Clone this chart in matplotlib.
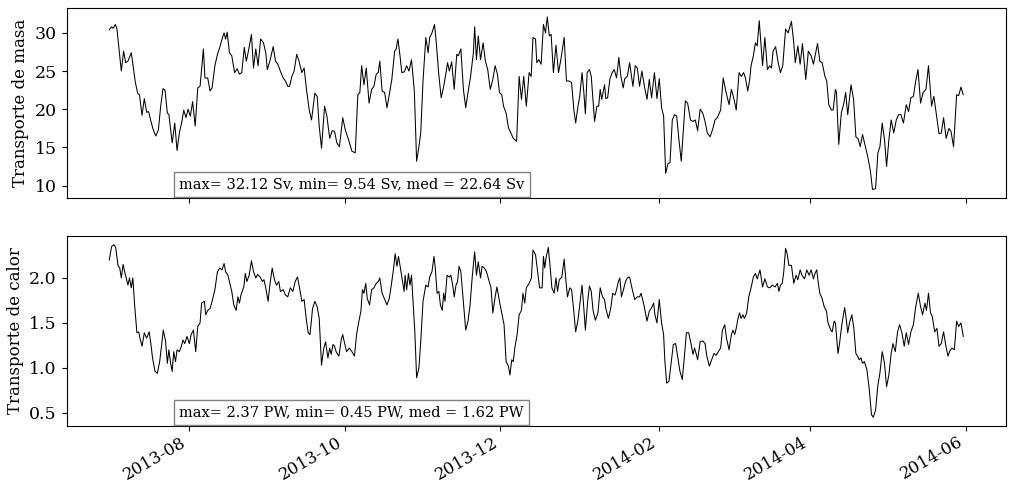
import matplotlib
matplotlib.use('Agg')
import matplotlib.pyplot as plt
import matplotlib.dates as mdates
import pandas as pd

plt.rcParams['font.family'] = 'DejaVu Serif'

# fecha de inicio de la serie
fecha_ini = pd.Timestamp('2013-07-01')

# transporte de masa (Sv), dias desde fecha_ini
dias_masa = [0, 0.9, 1.5, 2.4, 3.0, 4.7, 5.6, 6.4, 7.3, 8.6, 9.2, 10.2, 11.1, 11.8, 12.8, 13.7, 14.6, 15.4, 16.3, 17.2,
             18.2, 19.2, 20.1, 21.0, 21.8, 22.7, 23.3, 24.6, 25.6, 26.5, 27.4, 28.4, 29.1, 30.0, 30.8, 31.7, 32.6, 33.6,
             34.6, 35.5, 36.8, 37.4, 38.5, 39.4, 40.2, 41.3, 42.3, 43.2, 44.1, 44.9, 45.5, 46.1, 47.0, 47.9, 49.0, 50.0,
             50.9, 51.8, 52.8, 53.6, 54.4, 55.6, 56.4, 57.3, 58.2, 59.2, 60.3, 61.2, 61.8, 62.8, 64.1, 65.0, 65.9, 66.9,
             68.0, 68.9, 69.8, 70.5, 71.4, 72.3, 73.3, 74.2, 75.3, 76.2, 77.2, 78.2, 79.1, 80.4, 81.3, 82.1,
             83.0, 84.2, 85.1, 86.2, 87.2, 88.1, 89.0, 90.0, 91.3, 92.3, 93.6, 94.9, 96.2, 97.2, 98.0, 98.7, 99.6, 100.5,
             101.6, 102.6, 103.5, 104.4, 105.2, 105.8, 106.7, 107.7, 108.6, 109.5, 110.5, 111.6, 112.2, 112.9, 113.7,
             114.4, 115.4, 116.3, 117.2, 118.2, 119.3, 120.2, 121.1, 121.8, 122.7, 123.8, 124.7, 125.3, 126.2, 127.2,
             127.9, 128.8, 129.8, 130.8, 131.7, 132.3, 133.0, 133.9, 134.9, 135.9, 136.5, 137.5, 138.5, 139.4, 140.3,
             141.3, 142.4, 142.9, 143.6, 144.3, 145.2, 146.2, 147.1, 148.0, 149.0, 150.0, 150.9, 151.8, 152.6, 153.5,
             154.2, 155.2, 156.1, 156.9, 158.0, 159.3, 160.3, 161.2, 162.1, 163.1, 164.2, 165.0,
             165.7, 166.7, 167.2, 168.0, 168.9, 169.8, 170.6, 171.3, 172.1, 172.8, 173.7, 174.7, 175.7, 176.6, 177.9,
             178.8, 179.8, 180.8, 181.7, 182.4, 183.4, 184.0, 184.9, 185.6, 186.2, 186.9, 187.8, 188.5, 189.8, 190.7,
             191.4, 192.0, 192.6, 193.7, 194.2, 194.9, 195.8, 196.7, 197.5, 198.4, 199.3, 200.1, 201.0, 201.6, 202.6,
             203.5, 204.8, 205.7, 206.5, 207.4, 208.3, 209.3, 210.3, 211.2, 212.1, 213.2, 214.2, 215.1, 216.0, 216.8,
             217.6, 218.5, 219.3, 220.2, 221.1, 221.9, 222.8, 223.7, 224.4, 225.3, 226.2, 227.3, 228.3, 229.2, 230.1,
             231.1, 232.1, 233.0, 233.9, 235.0, 236.0, 236.9, 237.8, 239.1, 240.1, 241.1, 242.4, 243.3, 244.2, 245.2,
             246.3, 247.2, 248.1, 248.8, 249.7,
             250.4, 251.0, 251.9, 252.7, 253.4, 254.2, 255.5, 256.4, 257.4, 258.3, 259.0, 259.6, 260.6, 261.6, 262.5,
             263.4, 264.5, 265.5, 266.8, 267.7, 268.3, 269.3, 270.2, 271.1, 272.4, 273.4, 274.5, 275.4, 277.0, 277.9,
             278.8, 279.9, 280.6, 281.4, 282.4, 283.1, 284.0, 284.4, 285.3, 286.3, 287.3, 288.0, 288.8, 290.1, 291.1,
             292.0, 292.9, 293.7, 294.6, 295.5, 296.5, 297.6, 298.5, 299.7, 300.6, 301.4, 302.3, 303.2, 304.0, 304.9,
             305.8, 306.8, 307.8, 308.7, 309.6, 310.6, 311.7, 312.6, 313.5, 314.5, 315.4, 316.3, 317.3, 318.3, 319.4,
             320.4, 321.6, 322.5, 323.5, 324.5, 325.4, 326.3, 327.3, 328.4, 329.2, 330.2, 331.4, 332.2, 333.1, 334.0]
masa = [30.4, 30.8, 30.6, 31.1, 30.5, 25.0, 27.6, 26.1, 26.3, 27.4, 25.9, 23.5, 22.1, 21.9, 19.2, 21.4, 19.6, 19.7, 18.4, 17.3,
        16.5, 17.3, 20.4, 22.7, 22.5, 19.5, 19.3, 15.6, 18.2, 14.6, 16.9, 18.4, 19.9, 18.9, 20.0, 19.1, 21.0, 17.8,
        22.8, 23.0, 27.9, 24.1, 24.1, 22.4, 22.8, 25.7, 27.2, 28.1, 29.2, 30.0, 29.2, 30.1, 27.4, 27.0, 24.8, 25.3,
        24.6, 24.8, 28.1, 26.3, 27.6, 29.8, 25.4, 27.9, 25.7, 29.2, 28.7, 27.4, 25.2, 26.3, 28.2, 26.3, 25.9, 25.0,
        24.1, 23.7, 23.0, 23.0, 24.3, 25.0, 27.2, 26.3, 24.8, 25.4, 22.4, 19.9, 18.6, 22.1, 21.7, 17.8,
        14.9, 20.4, 19.1, 16.2, 17.2, 17.1, 15.6, 15.1, 18.9, 17.3, 16.0, 14.5, 14.3, 21.9, 22.2, 25.7, 23.2, 25.4,
        20.8, 22.6, 23.0, 24.6, 24.8, 26.3, 22.4, 22.2, 20.2, 21.9, 23.9, 27.6, 27.9, 29.2, 27.0,
        24.8, 24.9, 25.7, 25.0, 26.5, 22.4, 13.2, 15.1, 16.9, 23.7, 29.4, 27.4, 29.4, 30.0, 31.1,
        28.7, 24.8, 21.5, 23.0, 24.8, 26.1, 25.0, 26.2, 22.6, 27.2, 27.0, 27.9, 22.6, 20.2, 22.2,
        24.3, 27.4, 30.8, 26.5, 29.6, 26.5, 28.7, 26.3, 25.2, 22.6, 23.9, 25.7, 24.6, 22.2, 21.9,
        20.4, 19.5, 17.6, 17.0, 16.2, 15.8, 24.3, 21.3, 24.3, 20.4, 24.8, 24.3,
        29.4, 29.2, 26.1, 26.5, 25.9, 31.1, 30.0, 32.1, 29.6, 29.8, 24.8, 28.4, 24.8, 26.5, 29.4,
        23.7, 23.7, 23.5, 19.9, 18.2, 20.6, 21.7, 24.8, 22.2, 19.4, 24.8, 25.2, 24.3, 18.4, 20.4,
        20.4, 22.6, 21.3, 23.2, 21.4, 21.5, 24.0, 24.8, 25.2, 24.1, 26.8, 24.3, 22.8, 24.0, 24.3,
        26.1, 23.0, 25.7, 25.4, 23.0, 25.0, 23.0, 21.3, 23.9, 21.5, 24.8, 21.4, 24.0, 20.2, 19.1,
        11.6, 12.9, 13.0, 18.6, 19.3, 19.1, 16.0, 13.2, 16.7, 21.1, 20.8, 18.6, 18.4, 18.6, 17.2,
        20.0, 19.5, 18.4, 16.9, 16.4, 17.4, 18.6, 18.9, 19.9, 24.1, 22.4, 20.6, 22.6, 21.5, 19.9,
        24.8, 24.3, 24.8, 24.1, 22.4,
        23.7, 25.7, 27.0, 28.7, 28.3, 31.6, 25.7, 29.4, 25.2, 25.7, 25.4, 27.6, 28.2, 26.1, 24.8,
        25.7, 30.5, 30.0, 31.5, 28.7, 26.1, 28.3, 25.9, 28.6, 23.9, 27.6, 27.0, 25.9, 28.6, 26.3,
        26.1, 24.3, 23.7, 20.6, 19.9, 19.9, 22.6, 22.2, 15.4, 19.5, 20.8, 22.2, 19.3, 23.2, 21.3,
        16.4, 16.1, 15.1, 16.7, 15.4, 14.0, 12.1, 9.5, 9.6, 14.3, 15.1, 18.2, 16.0, 12.5, 16.0,
        18.6, 16.9, 18.6, 19.3, 19.3, 18.2, 20.6, 19.7, 21.5, 21.7, 23.7, 25.2, 20.8, 22.2, 22.6,
        25.7, 20.4, 21.7, 19.3, 16.8, 16.9, 18.9, 16.2, 17.5, 17.1, 15.1, 21.9, 21.8, 22.9, 21.9]

# transporte de calor (PW), dias desde fecha_ini
dias_calor = [0, 0.9, 1.8, 2.5, 3.4, 4.1, 4.7, 5.4, 6.0, 6.6, 7.3, 7.9, 8.6, 9.2, 9.9, 10.8, 11.5, 12.0, 12.8, 13.7,
              14.6, 15.6, 16.3, 16.9, 17.9, 18.8, 19.7, 20.5, 21.1, 22.0, 22.7, 23.3, 24.0, 24.6, 25.2, 25.9, 26.5,
              27.4, 28.2, 28.8, 29.5, 30.4, 31.3, 32.0, 32.9, 33.8, 34.6, 35.5, 36.1, 37.2, 37.7, 38.5, 39.4, 40.2,
              41.3, 42.3, 43.2, 44.1, 44.9, 45.5, 46.4, 47.0, 47.9, 48.7, 49.6, 50.3, 50.9, 51.5, 52.6, 53.2, 53.8,
              54.7, 55.6, 56.4, 57.3, 58.0, 59.0, 59.9, 60.5, 61.2, 62.1, 62.8, 63.7, 64.6, 65.4, 66.3, 66.9, 68.0,
              68.9, 69.8, 70.8, 71.8, 72.7, 73.6, 74.4, 75.3, 76.2, 77.0, 77.8, 78.5, 79.5, 80.4, 81.3, 82.1,
              83.0, 83.9, 84.6, 85.5, 86.2, 86.8, 87.5, 88.1, 88.7, 89.8, 90.7, 91.3, 91.9, 92.8, 93.9, 94.9, 95.9,
              96.7, 97.5, 98.4, 99.0, 99.6, 100.3, 100.9, 101.8, 102.6, 103.5, 104.4, 105.2, 105.8, 106.7, 107.7,
              108.6, 109.5, 110.3, 111.2, 111.8, 112.5, 113.1, 113.7, 114.6, 115.3, 115.7, 116.3, 117.0, 117.6,
              118.2, 118.9, 119.5, 120.2, 121.1, 121.8, 122.7, 123.8, 124.7, 125.3, 126.2, 127.0, 127.5, 128.2,
              128.9, 129.5, 130.2, 130.8, 131.3, 132.1, 133.0, 133.6, 134.3, 134.9, 135.6, 136.2, 136.8, 137.5,
              138.4, 139.4, 140.3, 141.1, 142.0, 142.9, 143.6, 144.3, 145.2, 145.8, 146.7, 147.5, 148.4, 149.3,
              150.0, 150.9, 151.6, 152.6, 153.5, 154.4, 155.2, 156.1, 156.7, 157.4, 158.0, 158.6, 159.5, 160.3,
              161.2, 161.8, 162.5, 163.1, 164.2, 165.1,
              165.7, 166.7, 167.5, 168.3, 169.3, 169.8, 170.3, 170.8, 171.7, 172.4, 173.1, 174.0, 174.7, 175.3,
              176.0, 177.0, 177.9, 178.5, 179.2, 180.1, 180.8, 181.5, 182.4, 183.3, 184.0, 184.9, 185.6, 186.2,
              187.1, 187.8, 188.5, 189.2, 190.1, 191.1, 192.0, 192.9, 193.7, 194.2, 195.2, 196.1, 196.9, 197.8,
              198.4, 199.1, 199.7, 200.3, 201.1, 201.9, 202.6, 203.5, 204.4, 205.5, 206.5, 207.4, 208.0, 209.1,
              210.3, 211.2, 212.1, 212.9, 213.4, 214.2, 215.1, 216.0, 216.8, 217.3, 218.0, 218.9, 219.8, 220.6,
              221.5, 222.4, 223.2, 224.1, 225.0, 225.7, 226.6, 227.5, 228.3, 228.9, 229.6, 230.1, 231.1, 232.1,
              233.0, 233.7, 234.7, 235.6, 236.5, 237.3, 238.2, 239.1, 239.8, 240.7, 241.4, 242.4, 243.3, 243.9,
              244.6, 245.2, 245.9, 246.5, 247.1, 247.8, 248.4, 249.3, 250.1,
              251.0, 251.9, 252.7, 253.4, 254.5, 255.5, 256.4, 257.4, 258.3, 259.3, 260.4, 261.3, 261.9, 262.5,
              263.2, 263.8, 264.5, 265.1, 265.8, 266.8, 267.7, 268.6, 269.3, 270.2, 270.9, 271.9, 272.8, 273.7,
              274.5, 275.4, 276.0, 276.7, 277.3, 277.9, 278.8, 279.6, 280.5, 281.1, 282.2, 282.7, 283.5, 284.0,
              285.0, 285.6, 286.5, 287.6, 288.2, 288.8, 289.5, 290.4, 291.2, 292.0, 292.7, 293.3, 294.0, 294.6,
              295.3, 296.3, 297.2, 298.1, 298.8, 299.7, 300.6, 301.4, 302.3, 303.2, 304.0, 304.9, 305.8, 306.5,
              307.4, 308.3, 309.1, 310.0, 310.9, 311.7, 312.6, 313.5, 314.5, 315.4, 316.4, 317.3, 318.1, 319.0,
              319.6, 320.4, 321.2, 321.9, 322.8, 323.7, 324.5, 325.4, 326.3, 327.1, 328.0, 328.9, 329.6, 330.5,
              331.4, 332.2, 333.1, 334.0]
calor = [2.20, 2.35, 2.37, 2.34, 2.14, 2.11, 2.00, 2.15, 2.07, 2.00, 1.92, 2.00, 1.89, 2.00, 1.70, 1.39, 1.40, 1.33, 1.24, 1.39,
         1.33, 1.40, 1.26, 1.11, 0.96, 0.94, 1.07, 1.26, 1.42, 1.30, 1.05, 1.20, 1.05, 0.96, 1.18, 1.07, 1.20,
         1.18, 1.24, 1.31, 1.27, 1.35, 1.27, 1.37, 1.42, 1.18, 1.46, 1.50, 1.72, 1.74, 1.59, 1.64, 1.66, 1.74,
         1.87, 2.07, 2.11, 2.09, 2.16, 2.07, 2.03, 1.96, 1.85, 1.70, 1.64, 1.79, 1.72, 1.81, 1.90, 2.05, 1.96,
         2.03, 2.19, 2.07, 2.00, 2.04, 2.01, 1.96, 1.98, 1.89, 1.74, 1.92, 2.11, 1.98, 1.92, 1.96, 1.85, 1.87,
         1.81, 1.79, 1.89, 1.85, 1.96, 2.01, 1.89, 1.74, 1.76, 1.55, 1.39, 1.37, 1.66, 1.74, 1.68, 1.55,
         1.03, 1.22, 1.29, 1.11, 1.22, 1.15, 1.26, 1.24, 1.18, 1.13, 1.31, 1.37, 1.29, 1.18, 1.22, 1.18, 1.13,
         1.37, 1.50, 1.63, 1.87, 1.83, 1.94, 1.77, 1.70, 1.87, 1.89, 1.94, 1.96, 2.00, 1.83, 1.76,
         1.70, 1.77, 1.92, 2.11, 2.27, 2.13, 2.24, 2.14, 1.98, 1.85, 2.03, 1.87, 2.05, 1.92,
         2.03, 1.70, 1.40, 0.89, 1.00, 1.29, 1.74, 1.92, 1.90, 2.01, 2.07, 2.24, 2.11, 1.83,
         1.85, 1.70, 1.64, 1.83, 1.74, 2.03, 2.01, 2.03, 1.92, 1.79, 1.92, 1.96, 2.13, 2.07,
         1.76, 1.42, 1.52, 1.70, 2.03, 2.29, 2.03, 2.18, 2.00, 2.13, 2.11, 2.07, 1.98, 1.89,
         1.61, 1.79, 1.90, 1.74, 1.61, 1.48, 1.07, 1.02, 0.92, 1.09, 1.07, 1.22, 1.37, 1.59,
         1.64, 1.83, 1.72, 1.89, 1.94, 2.00,
         2.31, 2.26, 2.07, 1.89, 1.89, 2.24, 2.11, 2.22, 2.34, 2.13, 1.89, 1.83, 2.00, 1.85,
         1.98, 2.01, 2.21, 2.00, 1.79, 1.89, 1.87, 1.68, 1.40, 1.53, 1.70, 1.92, 1.66, 1.42,
         1.74, 1.91, 1.85, 1.64, 1.53, 1.61, 1.89, 1.79, 1.76, 1.66, 1.55, 1.66, 1.83, 1.81,
         1.87, 1.96, 2.00, 1.79, 1.87, 1.96, 2.00, 2.01, 1.89, 1.76, 1.79, 1.79, 1.83, 1.70,
         1.52, 1.63, 1.67, 1.72, 1.59, 1.50, 1.76, 1.50, 1.37, 1.07, 0.83, 0.85, 1.07, 1.26,
         1.27, 1.11, 0.96, 0.87, 1.15, 1.39, 1.39, 1.27, 1.15, 1.22, 1.15, 1.09, 1.29, 1.30,
         1.27, 1.13, 1.02, 1.09, 1.16, 1.14, 1.18, 1.22, 1.42, 1.48, 1.33, 1.20, 1.37, 1.42,
         1.37, 1.44, 1.55, 1.61, 1.55, 1.59, 1.55, 1.61, 1.79,
         1.89, 2.01, 2.05, 1.99, 2.09, 1.90, 1.99, 1.90, 1.89, 1.92, 1.90, 1.94, 1.85, 1.92,
         1.94, 2.07, 2.33, 2.27, 2.14, 2.14, 1.94, 2.03, 1.98, 2.09, 2.03, 1.99, 2.09, 2.03,
         2.09, 1.99, 2.05, 2.09, 1.94, 1.83, 1.77, 1.68, 1.63, 1.50, 1.42, 1.40, 1.52, 1.50,
         1.16, 1.27, 1.48, 1.67, 1.55, 1.39, 1.50, 1.59, 1.44, 1.16, 1.13, 1.09, 1.11, 1.05,
         1.07, 0.98, 0.77, 0.48, 0.45, 0.53, 0.81, 0.94, 1.18, 1.05, 0.79, 0.92, 1.16, 1.27,
         1.18, 1.40, 1.48, 1.39, 1.24, 1.39, 1.26, 1.40, 1.48, 1.68, 1.83, 1.68, 1.59, 1.72,
         1.64, 1.83, 1.61, 1.57, 1.40, 1.44, 1.24, 1.27, 1.40, 1.26, 1.13, 1.20, 1.22, 1.20,
         1.52, 1.46, 1.50, 1.35]

# estadisticos mostrados en los recuadros
stats_masa = (32.12, 9.54, 22.64)
stats_calor = (2.37, 0.45, 1.62)

fechas_masa = fecha_ini + pd.to_timedelta(dias_masa, unit='D')
fechas_calor = fecha_ini + pd.to_timedelta(dias_calor, unit='D')

fig, (ax1, ax2) = plt.subplots(2, 1, sharex=True, figsize=(10.09, 4.84), dpi=100)

ax1.plot(fechas_masa, masa, color='k', lw=0.75)
ax1.set_ylabel('Transporte de masa', fontsize=12)
ax1.text(0.12, 0.05, 'max= %.2f Sv, min= %.2f Sv, med = %.2f Sv' % stats_masa,
         transform=ax1.transAxes, fontsize=10.5,
         bbox=dict(facecolor='white', edgecolor='gray'))

ax2.plot(fechas_calor, calor, color='k', lw=0.75)
ax2.set_ylabel('Transporte de calor', fontsize=12)
ax2.text(0.12, 0.05, 'max= %.2f PW, min= %.2f PW, med = %.2f PW' % stats_calor,
         transform=ax2.transAxes, fontsize=10.5,
         bbox=dict(facecolor='white', edgecolor='gray'))

ax2.xaxis.set_major_locator(mdates.MonthLocator(bymonth=[2, 4, 6, 8, 10, 12]))
ax2.xaxis.set_major_formatter(mdates.DateFormatter('%Y-%m'))
for ax in (ax1, ax2):
    ax.tick_params(axis='y', labelsize=12.5)
    ax.tick_params(axis='x', labelsize=12, pad=2)

fig.autofmt_xdate(rotation=30)
# posicion de los ejes ajustada a mano
fig.subplots_adjust(left=0.066, right=0.997, top=0.983, bottom=0.12, hspace=0.2)

fig.savefig('out.png')
